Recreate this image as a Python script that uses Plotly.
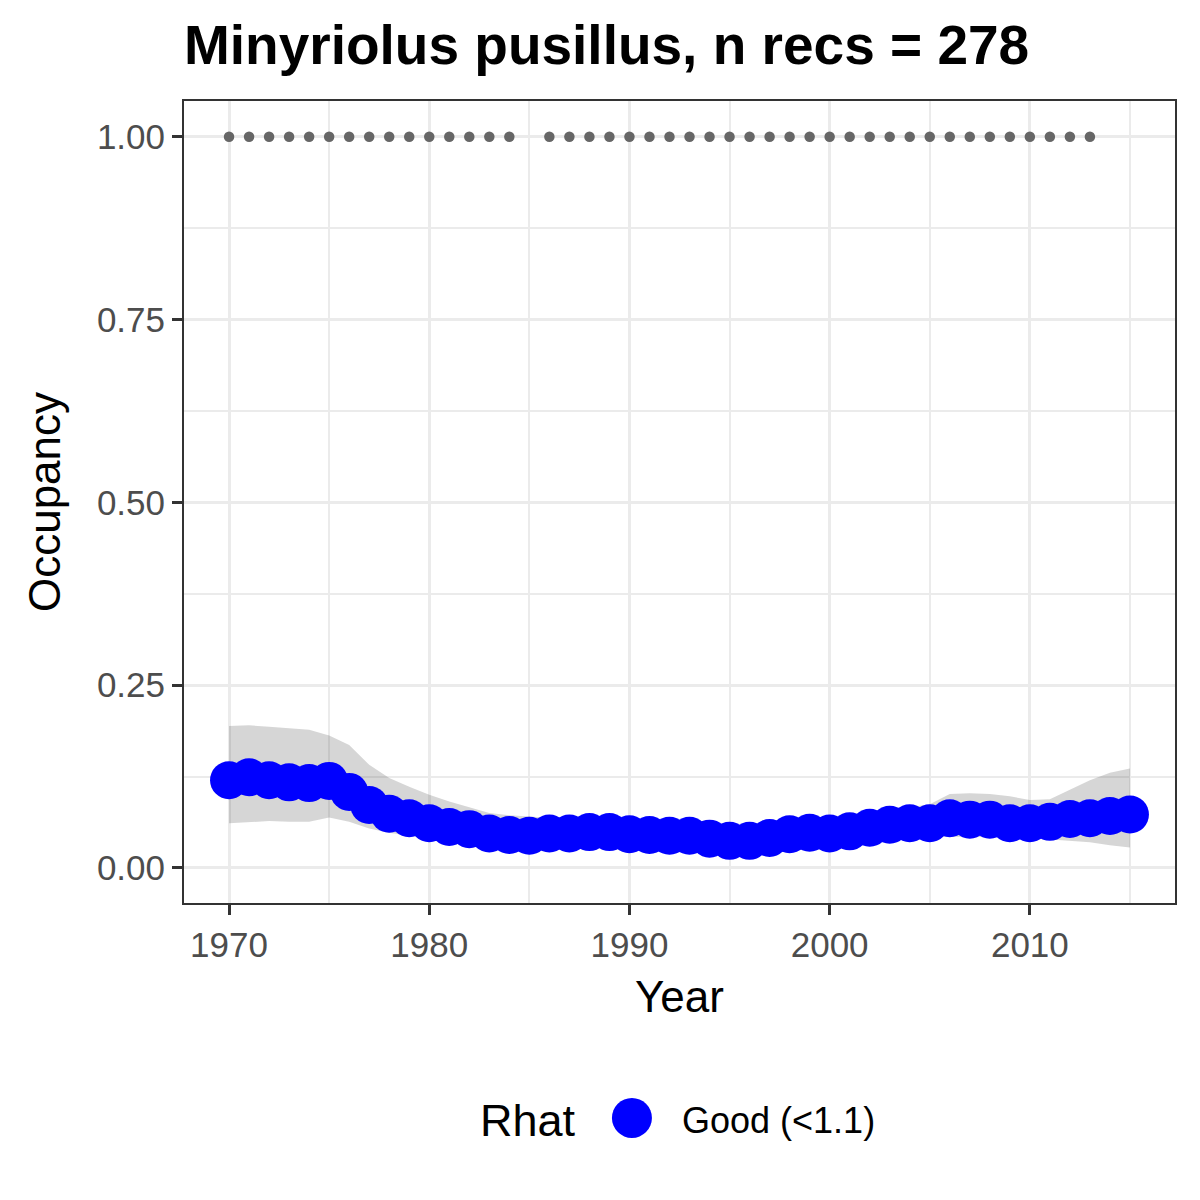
import plotly.graph_objects as go

# dados
anos = list(range(1970, 2016))

ocupacao = [0.120, 0.124, 0.120, 0.117, 0.116, 0.119, 0.104, 0.086, 0.074, 0.068,
            0.061, 0.056, 0.053, 0.047, 0.045, 0.044, 0.047, 0.047, 0.049, 0.049,
            0.046, 0.045, 0.044, 0.044, 0.040, 0.037, 0.037, 0.041, 0.046, 0.048,
            0.047, 0.050, 0.055, 0.059, 0.061, 0.061, 0.068, 0.066, 0.066, 0.061,
            0.061, 0.063, 0.067, 0.068, 0.071, 0.073]

limite_sup = [0.194, 0.195, 0.193, 0.191, 0.189, 0.181, 0.168, 0.141, 0.123, 0.111,
              0.100, 0.091, 0.083, 0.075, 0.072, 0.070, 0.068, 0.067, 0.068, 0.068,
              0.066, 0.065, 0.064, 0.063, 0.060, 0.057, 0.057, 0.061, 0.066, 0.068,
              0.068, 0.071, 0.076, 0.080, 0.083, 0.087, 0.101, 0.102, 0.101, 0.098,
              0.093, 0.094, 0.107, 0.120, 0.130, 0.136]

limite_inf = [0.061, 0.063, 0.064, 0.063, 0.063, 0.069, 0.063, 0.054, 0.048, 0.044,
              0.041, 0.038, 0.036, 0.033, 0.031, 0.030, 0.032, 0.032, 0.033, 0.033,
              0.031, 0.030, 0.030, 0.029, 0.027, 0.025, 0.025, 0.027, 0.031, 0.033,
              0.032, 0.034, 0.038, 0.041, 0.043, 0.043, 0.043, 0.043, 0.043, 0.042,
              0.041, 0.039, 0.038, 0.035, 0.031, 0.028]

# anos com registros (pontos cinza no topo)
anos_registros = [1970, 1971, 1972, 1973, 1974, 1975, 1976, 1977, 1978, 1979,
                  1980, 1981, 1982, 1983, 1984,
                  1986, 1987, 1988, 1989, 1990, 1991, 1992, 1993, 1994, 1995,
                  1996, 1997, 1998, 1999, 2000, 2001, 2002, 2003, 2004, 2005,
                  2006, 2007, 2008, 2009, 2010, 2011, 2012, 2013]
valor_registros = [1.0] * len(anos_registros)

titulo = "Minyriolus pusillus, n recs = 278"
fonte = "Liberation Sans, Arial, sans-serif"

fig = go.Figure()

# faixa de incerteza
fig.add_trace(go.Scatter(x=anos, y=limite_inf, mode="lines", line=dict(width=0),
                         showlegend=False, hoverinfo="skip"))
fig.add_trace(go.Scatter(x=anos, y=limite_sup, mode="lines", line=dict(width=0),
                         fill="tonexty", fillcolor="rgba(51,51,51,0.2)",
                         showlegend=False, hoverinfo="skip"))

# pontos de registros
fig.add_trace(go.Scatter(x=anos_registros, y=valor_registros, mode="markers",
                         marker=dict(size=10.5, color="#666666"), showlegend=False))

# ocupação
fig.add_trace(go.Scatter(x=anos, y=ocupacao, mode="lines+markers",
                         line=dict(color="blue", width=2),
                         marker=dict(size=38, color="blue"), showlegend=False))

eixo = dict(showline=True, linecolor="#333333", linewidth=2, mirror=True,
            ticks="outside", ticklen=10, tickwidth=2.5, tickcolor="#333333",
            gridcolor="#ebebeb", gridwidth=3, zeroline=False,
            tickfont=dict(family=fonte, size=35, color="#4d4d4d"))

fig.update_xaxes(**eixo, range=[1967.75, 2017.25], tickvals=[1970, 1980, 1990, 2000, 2010],
                 minor=dict(showgrid=True, dtick=5, tick0=1965, gridcolor="#ebebeb", gridwidth=1.6),
                 title=dict(text="Year", font=dict(family=fonte, size=44, color="black"), standoff=18))
fig.update_yaxes(**eixo, range=[-0.048, 1.049], tickvals=[0, 0.25, 0.5, 0.75, 1.0],
                 ticktext=["0.00", "0.25", "0.50", "0.75", "1.00"],
                 minor=dict(showgrid=True, dtick=0.125, tick0=0, gridcolor="#ebebeb", gridwidth=1.6),
                 title=dict(text="Occupancy", font=dict(family=fonte, size=44, color="black"), standoff=22))

# legenda manual (Rhat)
fig.add_annotation(text="Rhat", xref="paper", yref="paper", x=0.3976, y=-0.271,
                   xanchor="right", yanchor="middle", showarrow=False,
                   font=dict(family=fonte, size=45, color="black"))
fig.add_shape(type="circle", xref="paper", yref="paper", xsizemode="pixel", ysizemode="pixel",
              xanchor=0.452, yanchor=-0.268, x0=-20, x1=20, y0=-20, y1=20,
              fillcolor="blue", line=dict(width=0))
fig.add_annotation(text="Good (<1.1)", xref="paper", yref="paper", x=0.5005, y=-0.271,
                   xanchor="left", yanchor="middle", showarrow=False,
                   font=dict(family=fonte, size=36, color="black"))

# a página tem margem de 8px, então as margens são compensadas
fig.update_layout(
    width=1200, height=1200,
    margin=dict(l=176, r=33, t=93, b=305, autoexpand=False),
    paper_bgcolor="white", plot_bgcolor="white",
    title=dict(text="<b>" + titulo + "</b>", x=176 / 1200, xanchor="left", xref="container",
               y=1 - 37 / 1200, yanchor="middle", yref="container",
               font=dict(family=fonte, size=55, color="black")),
    showlegend=False,
)

fig.write_html("out.html")
